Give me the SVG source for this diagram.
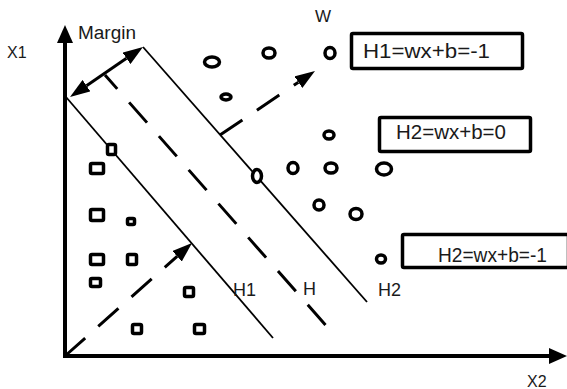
<svg xmlns="http://www.w3.org/2000/svg" width="567" height="389" viewBox="0 0 567 389">
<style>
  .lbl { font-family: "Liberation Sans", Arial, sans-serif; fill: #1a1a1a; }
  .axis { stroke: #000; stroke-width: 4; fill: none; }
  .thin { stroke: #000; stroke-width: 1.8; fill: none; }
  .dash { stroke: #000; stroke-width: 3; fill: none; stroke-dasharray: 27 17.5; }
  .solid3 { stroke: #000; stroke-width: 3; fill: none; }
  .pt { stroke: #000; stroke-width: 3.5; fill: #fff; }
  .box { stroke: #000; stroke-width: 3.5; fill: #fff; }
</style>
<defs>
  <marker id="ah" viewBox="0 0 20 14" markerWidth="20" markerHeight="14" refX="0" refY="7" orient="auto-start-reverse" markerUnits="userSpaceOnUse">
    <path d="M0,0 L20,7 L0,14 z" fill="#000"/>
  </marker>
  <marker id="axh" viewBox="0 0 18 16" markerWidth="18" markerHeight="16" refX="0" refY="8" orient="auto" markerUnits="userSpaceOnUse">
    <path d="M0,0 L18,8 L0,16 z" fill="#000"/>
  </marker>
</defs>

<g id="connectors">
  <line id="y-axis" class="axis" x1="65" y1="358" x2="65" y2="43" marker-end="url(#axh)"/>
  <line id="x-axis" class="axis" x1="63" y1="356" x2="549" y2="356" marker-end="url(#axh)"/>
  <line id="H1-line" class="thin" x1="66" y1="97" x2="273" y2="338"/>
  <line id="H2-line" class="thin" x1="143" y1="47" x2="367" y2="302"/>
  <line id="H-line" class="dash" x1="105" y1="75" x2="325.5" y2="325" style="stroke-dashoffset:8.5;stroke-dasharray:27 18"/>
  <line id="margin-arrow" class="solid3" x1="86.5" y1="85.7" x2="126.5" y2="58.3" marker-start="url(#ah)" marker-end="url(#ah)"/>
  <line id="w-arrow" class="dash" x1="220" y1="135" x2="298.4" y2="82.2" marker-end="url(#ah)"/>
  <line id="origin-arrow" class="dash" x1="65" y1="356" x2="177.1" y2="256.3" marker-end="url(#ah)"/>
</g>

<g id="circles">
  <ellipse class="pt" cx="212" cy="62" rx="7.5" ry="5"/>
  <ellipse class="pt" cx="269" cy="53" rx="6" ry="5"/>
  <ellipse class="pt" cx="330" cy="53" rx="5" ry="5.5"/>
  <ellipse class="pt" cx="226" cy="97" rx="5" ry="3"/>
  <ellipse class="pt" cx="329" cy="135" rx="5" ry="4"/>
  <ellipse class="pt" cx="257" cy="176" rx="4.5" ry="6.5"/>
  <ellipse class="pt" cx="293" cy="168" rx="5" ry="5.5"/>
  <ellipse class="pt" cx="331" cy="168" rx="6" ry="5"/>
  <ellipse class="pt" cx="384" cy="169" rx="7.5" ry="6"/>
  <ellipse class="pt" cx="319" cy="205" rx="5" ry="5"/>
  <ellipse class="pt" cx="356" cy="214" rx="6" ry="5.5"/>
  <ellipse class="pt" cx="381" cy="259" rx="4.5" ry="4"/>
</g>

<g id="squares">
  <rect class="pt" x="107.5" y="144.5" width="8" height="10" rx="1.5"/>
  <rect class="pt" x="90.5" y="163.5" width="13" height="10" rx="1.5"/>
  <rect class="pt" x="90.5" y="209.5" width="13" height="11" rx="1.5"/>
  <rect class="pt" x="127.5" y="218.5" width="7" height="6" rx="1.5"/>
  <rect class="pt" x="90.5" y="254.5" width="13" height="10" rx="1.5"/>
  <rect class="pt" x="127.5" y="254.5" width="9" height="10" rx="1.5"/>
  <rect class="pt" x="90.5" y="278.5" width="10" height="8" rx="1.5"/>
  <rect class="pt" x="184.5" y="287.5" width="9" height="9" rx="1.5"/>
  <rect class="pt" x="132.5" y="324.5" width="9" height="9" rx="1.5"/>
  <rect class="pt" x="194.5" y="324.5" width="10" height="9" rx="1.5"/>
</g>

<g id="box-H1">
  <rect class="box" x="351.5" y="33.5" width="171" height="35" rx="1.5"/>
  <text class="lbl" x="363" y="58" font-size="20" textLength="127" lengthAdjust="spacingAndGlyphs">H1=wx+b=-1</text>
</g>
<g id="box-H">
  <rect class="box" x="379.5" y="117.5" width="151" height="34" rx="1.5"/>
  <text class="lbl" x="396" y="139" font-size="20" textLength="110" lengthAdjust="spacingAndGlyphs">H2=wx+b=0</text>
</g>
<g id="box-H2">
  <rect class="box" x="402.5" y="234.5" width="166" height="33" rx="1.5"/>
  <text class="lbl" x="438" y="262" font-size="20" textLength="109" lengthAdjust="spacingAndGlyphs">H2=wx+b=-1</text>
</g>

<g id="labels">
  <text class="lbl" x="7" y="58" font-size="16">X1</text>
  <text class="lbl" x="78" y="39" font-size="18" textLength="58" lengthAdjust="spacingAndGlyphs">Margin</text>
  <text class="lbl" x="323" y="22" font-size="17" text-anchor="middle">W</text>
  <text class="lbl" x="233" y="296" font-size="18">H1</text>
  <text class="lbl" x="303" y="295" font-size="18">H</text>
  <text class="lbl" x="378" y="296" font-size="18">H2</text>
  <text class="lbl" x="527" y="387" font-size="16">X2</text>
</g>
</svg>
